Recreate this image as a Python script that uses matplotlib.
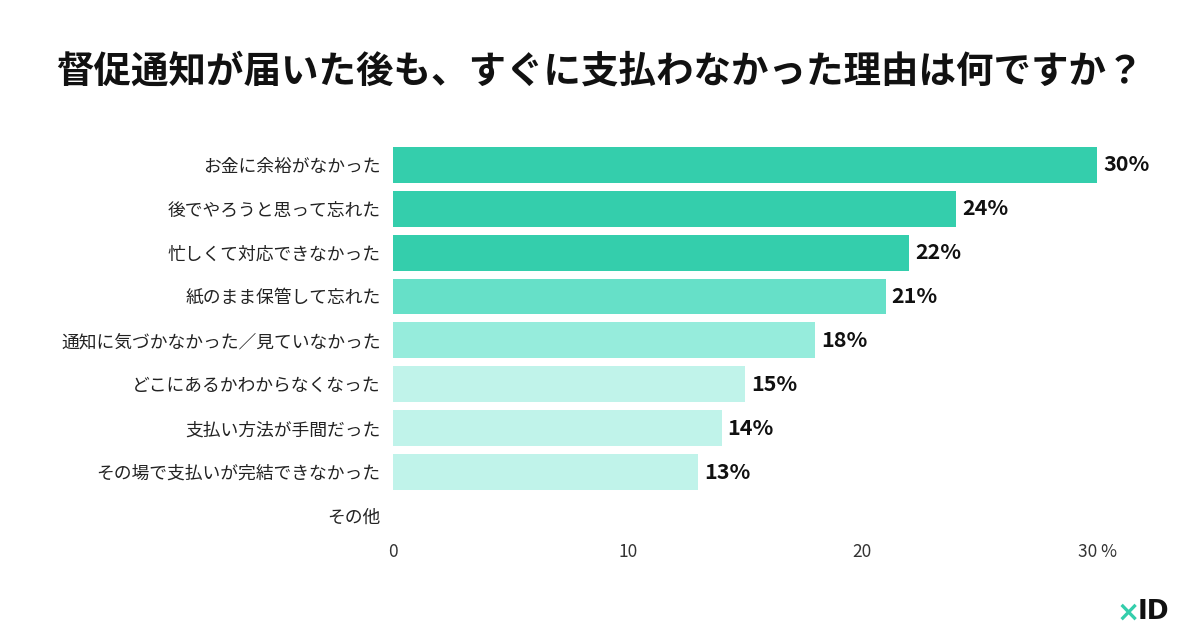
import matplotlib.pyplot as plt

plt.rcParams['font.family'] = ['Noto Sans CJK JP', 'DejaVu Sans']

# データ
categories = ['お金に余裕がなかった', '後でやろうと思って忘れた', '忙しくて対応できなかった',
              '紙のまま保管して忘れた', '通知に気づかなかった／見ていなかった',
              'どこにあるかわからなくなった', '支払い方法が手間だった',
              'その場で支払いが完結できなかった', 'その他']
values = [30, 24, 22, 21, 18, 15, 14, 13, 0]
colors = ['#34ceac', '#34ceac', '#34ceac', '#66e0c8', '#96ecdc',
          '#c0f3ea', '#c0f3ea', '#c0f3ea', '#c0f3ea']
tick_vals = [0, 10, 20, 30]
tick_labels = ['0', '10', '20', '30 %']

fig = plt.figure(figsize=(12, 6.38), dpi=100)
ax = fig.add_axes([0.3275, 0.157, 0.9142 - 0.3275, 0.776 - 0.157])

y = range(len(categories))
ax.barh(y, values, height=0.82, color=colors)
ax.set_ylim(len(categories) - 0.5, -0.5)
ax.set_xlim(0, 30)

ax.set_yticks(list(y))
ax.set_yticklabels(categories, fontsize=12.8, color='#222222')
ax.set_xticks(tick_vals)
ax.set_xticklabels(tick_labels, fontsize=12.5, color='#333333')
ax.tick_params(length=0, axis='y', pad=9)
ax.tick_params(length=0, axis='x', pad=4)
for s in ax.spines.values():
    s.set_visible(False)

for i, v in enumerate(values):
    if v > 0:
        ax.text(v + 0.25, i, f'{v}%', va='center', ha='left', fontsize=15.5,
                fontweight='bold', color='#111111', clip_on=False)

fig.text(0.5, 0.888, '督促通知が届いた後も、すぐに支払わなかった理由は何ですか？',
         ha='center', va='center', fontsize=27, fontweight='bold', color='#111111')

# ロゴ
fig.text(0.9305, 0.04, '×', ha='left', va='center', fontsize=20, fontweight='bold',
         color='#34ceac', family='DejaVu Sans')
fig.text(0.948, 0.04, 'ID', ha='left', va='center', fontsize=19, fontweight='black',
         color='#111111', family='DejaVu Sans')

fig.savefig('out.png', dpi=100)
